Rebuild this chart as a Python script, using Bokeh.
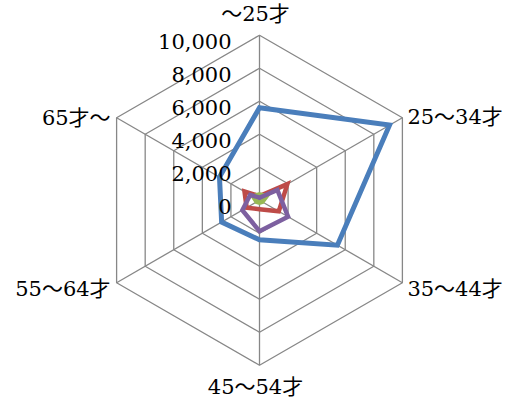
import math
from bokeh.plotting import figure
from bokeh.models import Range1d
from bokeh.core.properties import value
from bokeh.embed import file_html
from bokeh.resources import INLINE

# ---- data ----
categories = ["～25才", "25～34才", "35～44才", "45～54才", "55～64才", "65才～"]
series_blue = [5600, 9100, 5450, 2400, 2650, 2800]
series_red = [250, 1950, 1350, 550, 900, 1050]
series_green = [350, 500, 200, 150, 200, 450]
series_purple = [150, 1250, 2000, 1880, 1200, 650]
ring_values = [0, 2000, 4000, 6000, 8000, 10000]
ring_labels = ["0", "2,000", "4,000", "6,000", "8,000", "10,000"]

# ---- layout ----
W, H = 512, 400
RMAX = 10000
R_PX = 165.0            # radius of outer ring in pixels
CX, CY = 259.0, 199.7   # centre in figure pixels (from top-left)
U = RMAX / R_PX         # data units per pixel

p = figure(width=W, height=H, output_backend="svg", toolbar_location=None,
           x_range=Range1d(-CX * U, (W - CX) * U),
           y_range=Range1d(-(H - CY) * U, CY * U),
           x_axis_location=None, y_axis_location=None,
           min_border=0, outline_line_color=None)
p.grid.visible = False
p.background_fill_color = "white"
p.border_fill_color = "white"

n = len(categories)
angles = [math.pi / 2 - 2 * math.pi * k / n for k in range(n)]

def pts(vals):
    xs = [v * math.cos(a) for v, a in zip(vals, angles)]
    ys = [v * math.sin(a) for v, a in zip(vals, angles)]
    return xs, ys

GRID = "#878787"
# rings
for rv in ring_values[1:]:
    xs, ys = pts([rv] * n)
    p.patch(xs, ys, fill_color=None, line_color=GRID, line_width=1.3)
# spokes
for a in angles:
    p.line([0, RMAX * math.cos(a)], [0, RMAX * math.sin(a)], line_color=GRID, line_width=1.3)

# series
for vals, col, lw in [(series_blue, "#4a7ebb", 5),
                      (series_red, "#be4b48", 4.5),
                      (series_green, "#98b954", 4.5),
                      (series_purple, "#7d60a0", 4.5)]:
    xs, ys = pts(vals)
    p.patch(xs, ys, fill_color=None, line_color=col, line_width=lw, line_join="miter")

FONT = value("DejaVu Serif, Noto Sans CJK JP")

# radial tick labels
p.text(x=[-28 * U] * len(ring_values), y=[rv - 6 * U for rv in ring_values], text=ring_labels,
       text_font=FONT, text_font_size="21px", text_align="right",
       text_baseline="middle", text_color="black")

# category labels
offs = [(-4, 21, "center"), (5, 1, "left"), (5, -6, "left"),
        (-4, -22, "center"), (-6, -6, "right"), (-6, 0, "right")]
for cat, a, (dx, dy, al) in zip(categories, angles, offs):
    p.text(x=[RMAX * math.cos(a) + dx * U], y=[RMAX * math.sin(a) + dy * U], text=[cat],
           text_font=FONT, text_font_size="21px", text_align=al,
           text_baseline="middle", text_color="black")

open("out.html", "w").write(file_html(p, INLINE))
